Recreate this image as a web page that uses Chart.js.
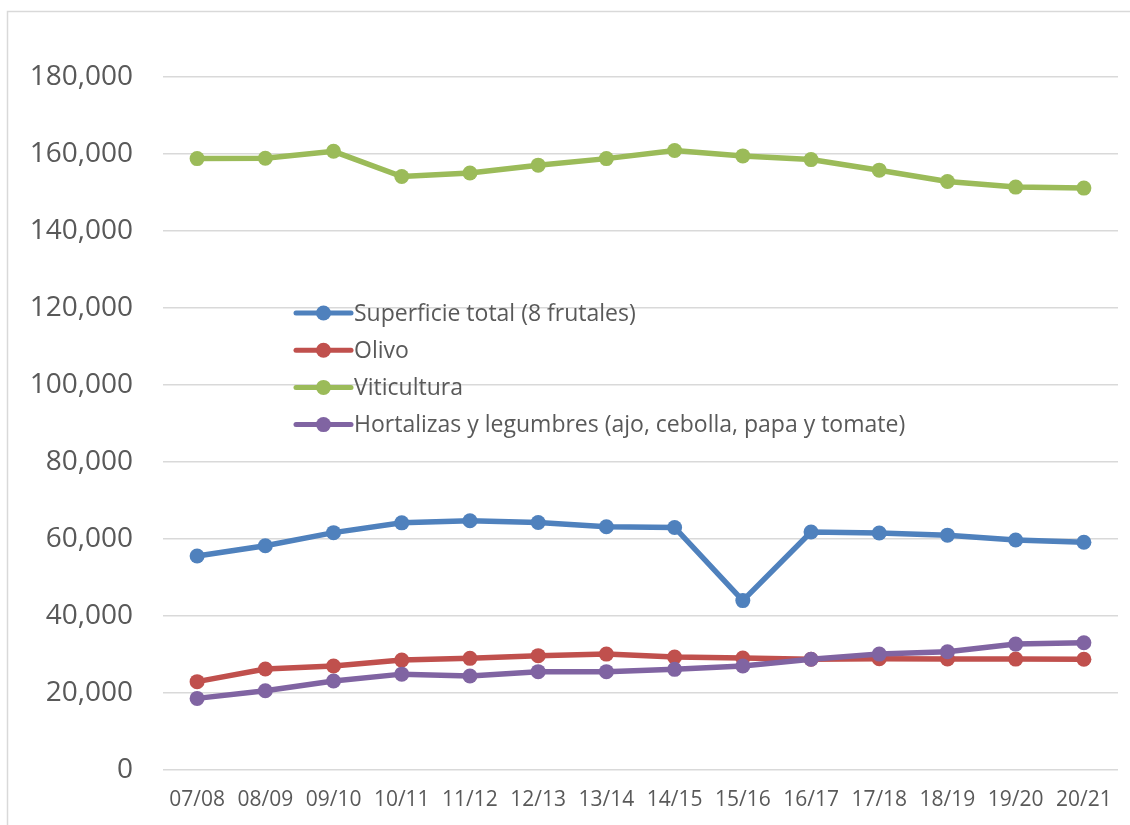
<!DOCTYPE html>
<html>
<head>
<meta charset="utf-8">
<script src="https://cdn.jsdelivr.net/npm/chart.js@4/dist/chart.umd.min.js"></script>
<style>
  html, body { margin: 0; padding: 0; background: #fff; }
  #wrap { width: 1130px; height: 825px; }
</style>
</head>
<body>
<div id="wrap"><canvas id="graphCanvas" width="1130" height="825"></canvas></div>
<script>
var temporadas = ["07/08", "08/09", "09/10", "10/11", "11/12", "12/13", "13/14",
                  "14/15", "15/16", "16/17", "17/18", "18/19", "19/20", "20/21"];

var frutales = [55600, 58250, 61650, 64200, 64750, 64300, 63200,
                63000, 44000, 61800, 61550, 61000, 59750, 59150];
var olivo = [22950, 26250, 27000, 28550, 29000, 29700, 30100,
             29350, 29100, 28750, 28900, 28850, 28800, 28750];
var viticultura = [158800, 158900, 160700, 154150, 155050, 157100, 158800,
                   160900, 159500, 158550, 155800, 152850, 151400, 151150];
var hortalizas = [18600, 20600, 23100, 24900, 24400, 25550, 25550,
                  26150, 27000, 28750, 30100, 30700, 32700, 33050];

var nombres = ["Superficie total (8 frutales)", "Olivo", "Viticultura",
               "Hortalizas y legumbres (ajo, cebolla, papa y tomate)"];
var colores = ["#4f81bd", "#c0504d", "#9bbb59", "#8064a2"];

var yTicks = [0, 20000, 40000, 60000, 80000, 100000, 120000, 140000, 160000, 180000];

var textColor = "#595959";
var fontFamily = "'Open Sans', sans-serif";

function serie(i, valores) {
    return {
        label: nombres[i],
        data: valores,
        borderColor: colores[i],
        backgroundColor: colores[i],
        borderWidth: 5.5,
        pointRadius: 7.5,
        pointHoverRadius: 7.5,
        pointBorderWidth: 0,
        tension: 0,
        order: 4 - i
    };
}

// thin frame on the left/top like the original sheet object
var marco = {
    id: "marco",
    beforeDraw: function (chart) {
        var ctx = chart.ctx;
        ctx.save();
        ctx.strokeStyle = "#d9d9d9";
        ctx.lineWidth = 1.5;
        ctx.beginPath();
        ctx.moveTo(7.5, 825);
        ctx.lineTo(7.5, 11.5);
        ctx.lineTo(1130, 11.5);
        ctx.stroke();
        ctx.restore();
    }
};

// legend drawn inside the plot area, line + marker style
var leyenda = {
    id: "leyenda",
    afterDatasetsDraw: function (chart) {
        var ctx = chart.ctx;
        var x0 = 296, y0 = 313, paso = 37.2;
        ctx.save();
        ctx.font = "23px " + fontFamily;
        ctx.textBaseline = "middle";
        chart.data.datasets.forEach(function (ds, i) {
            var y = y0 + i * paso;
            ctx.strokeStyle = ds.borderColor;
            ctx.lineWidth = 5;
            ctx.lineCap = "round";
            ctx.beginPath();
            ctx.moveTo(x0, y);
            ctx.lineTo(x0 + 55, y);
            ctx.stroke();
            ctx.fillStyle = ds.borderColor;
            ctx.beginPath();
            ctx.arc(x0 + 27.5, y, 7.5, 0, Math.PI * 2);
            ctx.fill();
            ctx.fillStyle = textColor;
            ctx.fillText(ds.label, x0 + 58, y + 1);
        });
        ctx.restore();
    }
};

new Chart(document.getElementById("graphCanvas"), {
    type: "line",
    data: {
        labels: temporadas,
        datasets: [
            serie(0, frutales),
            serie(1, olivo),
            serie(2, viticultura),
            serie(3, hortalizas)
        ]
    },
    options: {
        responsive: false,
        animation: false,
        layout: { padding: { top: 77, right: 12, left: 0, bottom: 0 } },
        plugins: {
            legend: { display: false },
            tooltip: { enabled: false }
        },
        scales: {
            x: {
                offset: true,
                grid: { display: false, drawTicks: false },
                border: { display: false },
                ticks: {
                    color: textColor,
                    font: { family: fontFamily, size: 21 },
                    padding: 17,
                    maxRotation: 0,
                    autoSkip: false
                },
                afterFit: function (scale) { scale.height = 55; }
            },
            y: {
                min: 0,
                max: 180000,
                afterBuildTicks: function (scale) {
                    scale.ticks = yTicks.map(function (v) { return { value: v }; });
                },
                grid: { color: "#d9d9d9", lineWidth: 1.5, drawTicks: false },
                border: { display: false },
                ticks: {
                    color: textColor,
                    font: { family: fontFamily, size: 28 },
                    padding: 30,
                    callback: function (v) { return v.toLocaleString("en-US"); }
                },
                afterFit: function (scale) { scale.width = 163; }
            }
        }
    },
    plugins: [marco, leyenda]
});
</script>
</body>
</html>
